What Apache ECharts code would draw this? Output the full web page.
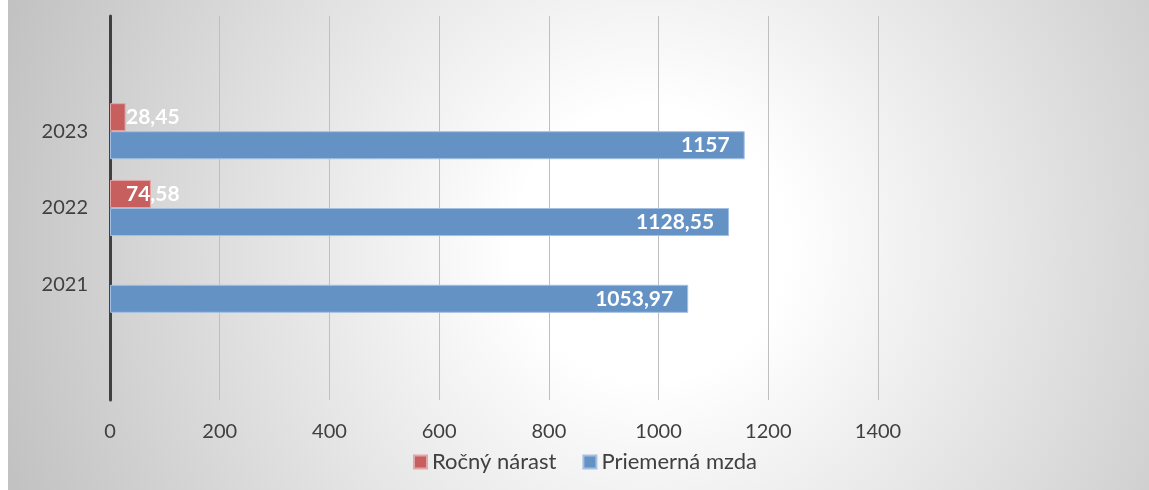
<!DOCTYPE html>
<html>
<head>
<meta charset="utf-8">
<script src="https://cdn.jsdelivr.net/npm/echarts@6/dist/echarts.min.js"></script>
<style>html,body{margin:0;padding:0;background:#fff;}#c{width:1149px;height:490px;}</style>
</head>
<body>
<div id="c"></div>
<script>
var categories = ['', '2021', '2022', '2023', ''];
var mzda = [null, 1053.97, 1128.55, 1157, null];
var narast = [null, null, 74.58, 28.45, null];
var xTicks = [0, 200, 400, 600, 800, 1000, 1200, 1400];
var seriesNames = ['Ročný nárast', 'Priemerná mzda'];

var FONT = 'Lato';
function fmt(p) { return String(p.value).replace('.', ','); }

var chart = echarts.init(document.getElementById('c'));
chart.setOption({
  backgroundColor: '#ffffff',
  animation: false,
  textStyle: { fontFamily: FONT },
  graphic: [{
    type: 'rect', z: -100, silent: true,
    shape: { x: 8, y: 0, width: 1141, height: 490 },
    style: {
      fill: {
        type: 'radial', global: true, x: 650, y: 245, r: 680,
        colorStops: [
          { offset: 0, color: '#ffffff' },
          { offset: 0.2, color: '#ffffff' },
          { offset: 1, color: '#c2c2c2' }
        ]
      }
    }
  }],
  grid: { left: 110, right: 271, top: 16, bottom: 90, containLabel: false },
  legend: {
    data: seriesNames,
    left: 408, top: 446,
    icon: 'rect', itemWidth: 13, itemHeight: 13, itemGap: 26,
    textStyle: { fontSize: 22, color: '#404040', fontFamily: FONT }
  },
  xAxis: {
    type: 'value', min: xTicks[0], max: xTicks[xTicks.length - 1], interval: 200,
    axisLine: { show: false }, axisTick: { show: false },
    axisLabel: { fontSize: 20, color: '#404040', margin: 22, fontFamily: FONT,
      formatter: function (v) { return String(v); } },
    splitLine: { lineStyle: { color: '#bfbfbf', width: 1 } }
  },
  yAxis: {
    type: 'category', data: categories,
    axisLine: { show: true, lineStyle: { color: '#404040', width: 3 } },
    axisTick: { show: false },
    axisLabel: { fontSize: 20, color: '#404040', margin: 22, fontFamily: FONT },
    splitLine: { show: false }
  },
  series: [
    {
      name: seriesNames[0], type: 'bar', data: narast,
      barGap: '0%', barCategoryGap: '27%',
      itemStyle: { color: '#c65f5d', borderColor: '#e3a6a5', borderWidth: 1 },
      label: { show: true, position: [16, '50%'], align: 'left', verticalAlign: 'middle', formatter: fmt,
        color: '#ffffff', fontWeight: 'bold', fontSize: 21, fontFamily: FONT }
    },
    {
      name: seriesNames[1], type: 'bar', data: mzda,
      barGap: '0%', barCategoryGap: '27%',
      itemStyle: { color: '#6592c5', borderColor: '#a3c0e2', borderWidth: 1 },
      label: { show: true, position: 'insideRight', distance: 15, formatter: fmt,
        color: '#ffffff', fontWeight: 'bold', fontSize: 21, fontFamily: FONT }
    }
  ]
});
</script>
</body>
</html>
